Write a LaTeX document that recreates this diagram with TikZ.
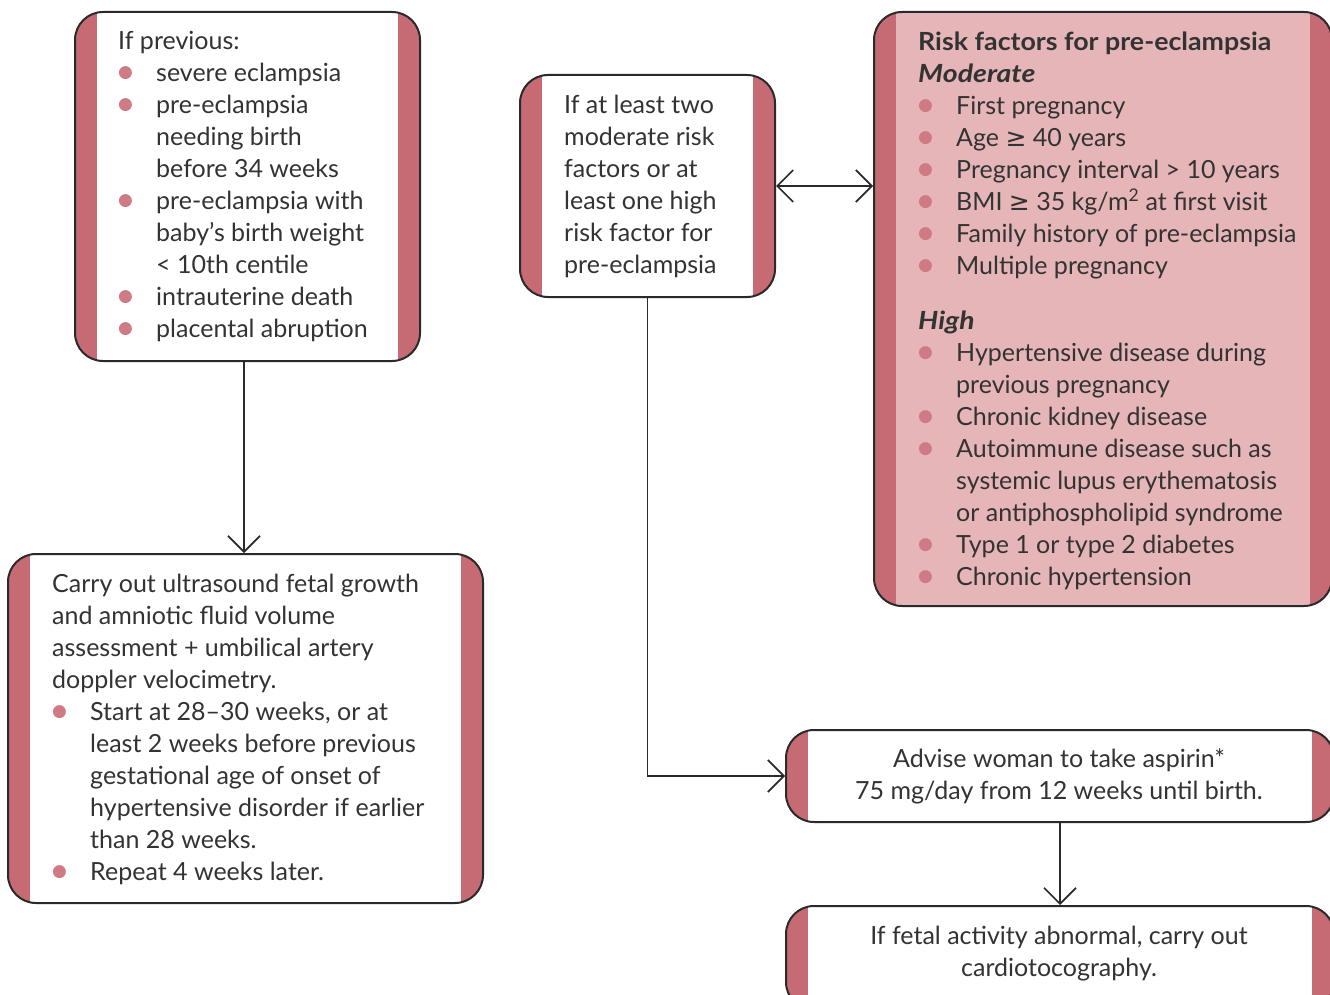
\documentclass[tikz,border=0pt]{standalone}
\usepackage{fontspec}
\setmainfont{Lato}
\newfontfamily\dejavu{DejaVu Sans}
\usetikzlibrary{arrows.meta}
\definecolor{bandc}{HTML}{C66B73}
\definecolor{lightc}{HTML}{E5B5B7}
\definecolor{bulc}{HTML}{D07A83}
\definecolor{linec}{HTML}{2A2A2A}
\definecolor{txtc}{HTML}{333333}
\newcommand\bu{\makebox[38pt][l]{\hspace{0pt}\raisebox{4pt}{\textcolor{bulc}{\dejavu\fontsize{17}{17}\selectfont ●}}}}
\newcommand\ind{\hspace*{38pt}}
\newcommand\gesym{{\dejavu ≥}}
\newcommand\bi[2]{\scalebox{#1}[1]{\textbf{\textit{#2}}}}
\tikzset{
 box/.style={draw=linec, line width=2pt, rounded corners=28pt, inner sep=0pt,
   path picture={\fill[bandc, sharp corners] (path picture bounding box.north west) rectangle ([xshift=22pt]path picture bounding box.south west);
                 \fill[bandc, sharp corners] ([xshift=-22pt]path picture bounding box.north east) rectangle (path picture bounding box.south east);}},
 txt/.style={inner sep=0pt, anchor=north west, align=left, text=txtc, font=\fontsize{25}{32}\selectfont},
 ctxt/.style={txt, anchor=north, align=center},
 conn/.style={draw=linec, line width=1.7pt},
 arr/.style={conn, -{Straight Barb[length=16pt,width=32pt]}},
 arrboth/.style={conn, {Straight Barb[length=16pt,width=32pt]}-{Straight Barb[length=16pt,width=32pt]}},
}
\begin{document}
\begin{tikzpicture}[x=1pt,y=-1pt]
\useasboundingbox[fill=white] (0,0) rectangle (1330,995);
% boxes
\node[box, fill=white, minimum width=345pt, minimum height=349pt] (A) at (247.5,186.5) {};
\node[box, fill=white, minimum width=255pt, minimum height=222pt] (B) at (647.5,186) {};
\node[box, fill=lightc, minimum width=458pt, minimum height=594pt] (C) at (1103,309) {};
\node[box, fill=white, minimum width=475pt, minimum height=349pt] (D) at (245.5,728.5) {};
\node[box, fill=white, minimum width=548pt, minimum height=92pt] (E) at (1060,776) {};
\node[box, fill=white, minimum width=548pt, minimum height=104pt] (F) at (1060,958) {};
% texts
\node[txt] (tA) at (118,26.6) {\strut If previous:\\
\bu severe eclampsia\\
\bu pre-eclampsia\\
\ind needing birth\\
\ind before 34 weeks\\
\bu pre-eclampsia with\\
\ind baby’s birth weight\\
\ind < 10th centile\\
\bu intrauterine death\\
\bu placental abruption};
\node[txt] (tB) at (564,90.6) {\strut If at least two\\
moderate risk\\
factors or at\\
least one high\\
risk factor for\\
pre-eclampsia};
\node[txt] (tC) at (918,27.6) {\strut\bi{1.07}{\upshape Risk factors for pre-eclampsia}\\
\bi{1.14}{Moderate}\\
\bu First pregnancy\\
\bu Age \gesym{} 40 years\\
\bu Pregnancy interval > 10 years\\
\bu BMI \gesym{} 35 kg/m\textsuperscript{2} at first visit\\
\bu Family history of pre-eclampsia\\
\bu Multiple pregnancy\\[23pt]
\bi{1.13}{High}\\
\bu Hypertensive disease during\\
\ind previous pregnancy\\
\bu Chronic kidney disease\\
\bu Autoimmune disease such as\\
\ind systemic lupus erythematosis\\
\ind or antiphospholipid syndrome\\
\bu Type 1 or type 2 diabetes\\
\bu Chronic hypertension};
\node[txt] (tD) at (52,569.6) {\strut Carry out ultrasound fetal growth\\
and amniotic fluid volume\\
assessment + umbilical artery\\
doppler velocimetry.\\
\bu Start at 28–30 weeks, or at\\
\ind least 2 weeks before previous\\
\ind gestational age of onset of\\
\ind hypertensive disorder if earlier\\
\ind than 28 weeks.\\
\bu Repeat 4 weeks later.};
\node[ctxt] (tE) at (1059,744.6) {\strut Advise woman to take aspirin*\\ 75 mg/day from 12 weeks until birth.};
\node[ctxt] (tF) at (1059,921.6) {\strut If fetal activity abnormal, carry out\\ cardiotocography.};
% connectors
\coordinate (aTop) at ([xshift=-3.5pt]A.south);
\draw[arr] (aTop) -- (aTop |- D.north);
\draw[arrboth] (B.east) -- (B.east -| C.west);
\draw[arr] (B.south) |- (E.west);
\draw[arr] (E.south) -- (F.north);
\end{tikzpicture}
\end{document}
